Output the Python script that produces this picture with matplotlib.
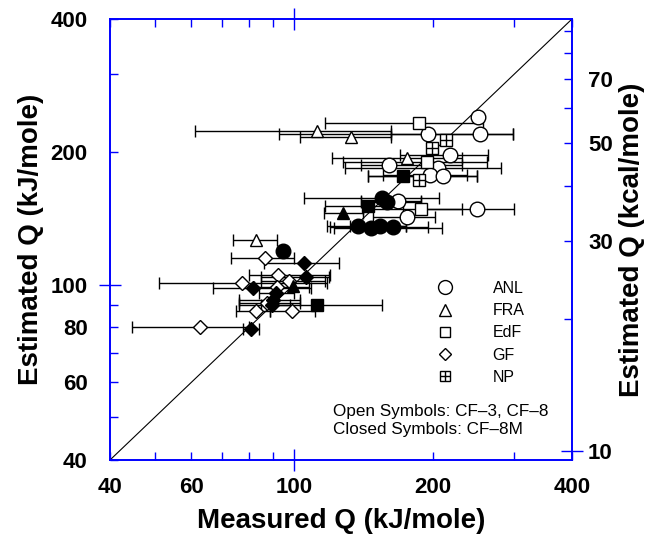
import numpy as np
import matplotlib
matplotlib.use("Agg")
import matplotlib.pyplot as plt
from matplotlib.lines import Line2D
from matplotlib.ticker import FuncFormatter

plt.rcParams["font.family"] = ["Liberation Sans", "DejaVu Sans"]

KJ_PER_KCAL = 4.184
AXIS_RANGE = [40, 400]
X_LABELED = [40, 60, 100, 200, 400]
Y_LABELED = [40, 60, 80, 100, 200, 400]
KCAL_LABELED = [10, 30, 50, 70]

# open symbols: CF-3, CF-8  (measured, estimated, measured low/high)
anl_x = [250, 195, 253, 218, 161, 205, 197, 210, 168, 249, 176]
anl_y = [240, 220, 219, 197, 187, 184, 177, 176, 155, 148, 142]
anl_lo = [250, 93, 162, 170, 140, 129, 156, 145, 140, 188, 148]
anl_hi = [250, 298, 298, 263, 231, 281, 237, 249, 188, 300, 202]

fra_x = [112, 133, 176, 83]
fra_y = [223, 216, 194, 126]
fra_lo = [61, 103, 121, 74]
fra_hi = [162, 162, 231, 92]

edf_x = [187, 194, 188]
edf_y = [232, 190, 148]
edf_lo = [117, 128, 141]
edf_hi = [257, 262, 231]

gf_x = [86.6, 92.4, 77.3, 97.6, 91.9, 87.5, 82.8, 99, 62.6]
gf_y = [115, 105, 101, 102, 98.7, 90.8, 87.1, 87.1, 80.1]
gf_lo = [73, 80, 51, 85, 82, 76, 75, 89, 44.6]
gf_hi = [100, 120, 118, 117, 108, 103, 89, 111, 80]

np_x = [213, 199, 187]
np_y = [213, 204, 173]

# closed symbols: CF-8M
anl_m_x = [155, 159, 138, 147, 154, 164, 94.7]
anl_m_y = [157, 154, 136, 134, 136, 135, 119]
anl_m_lo = [105, 140, 118, 122, 132, 120, 94.7]
anl_m_hi = [206, 188, 175, 209, 175, 195, 94.7]

fra_m_x = [128, 99.6]
fra_m_y = [145, 99.2]
fra_m_lo = [116, 99.6]
fra_m_hi = [141, 99.6]

edf_m_x = [145, 172, 112]
edf_m_y = [151, 176, 89.8]
edf_m_lo = [117, 145, 76]
edf_m_hi = [172, 249, 155]

gf_m_x = [105, 106, 81.6, 91.5, 90.1, 89.7, 80.8]
gf_m_y = [112, 104, 98.2, 95.6, 92.2, 89.8, 79.3]
gf_m_lo = [86, 85, 67, 84, 76, 85, 77.6]
gf_m_hi = [125, 119, 109, 100, 103, 98, 84]

MARKERS = {"ANL": ("o", 10.5), "FRA": ("^", 8), "EdF": ("s", 8), "GF": ("D", 6.8)}


def draw(ax, x, y, lo, hi, lab, filled):
    x = np.asarray(x, float)
    err = [x - np.asarray(lo, float), np.asarray(hi, float) - x]
    m, ms = MARKERS[lab]
    ax.errorbar(x, y, xerr=err, fmt=m, ms=ms, mfc="black" if filled else "white",
                mec="black", mew=1.0, ecolor="black", elinewidth=1.0,
                capsize=4, capthick=1.0, zorder=3)


fig = plt.figure(figsize=(6.56, 5.38), dpi=100)
ax = fig.add_axes([110 / 656, 1 - 460 / 538, 462 / 656, 441 / 538])
ax.set_xscale("log")
ax.set_yscale("log")
ax.set_xlim(AXIS_RANGE)
ax.set_ylim(AXIS_RANGE)

ax.plot(AXIS_RANGE, AXIS_RANGE, color="black", lw=0.8, zorder=1)

draw(ax, anl_x, anl_y, anl_lo, anl_hi, "ANL", False)
draw(ax, fra_x, fra_y, fra_lo, fra_hi, "FRA", False)
draw(ax, edf_x, edf_y, edf_lo, edf_hi, "EdF", False)
draw(ax, gf_x, gf_y, gf_lo, gf_hi, "GF", False)
draw(ax, anl_m_x, anl_m_y, anl_m_lo, anl_m_hi, "ANL", True)
draw(ax, fra_m_x, fra_m_y, fra_m_lo, fra_m_hi, "FRA", True)
draw(ax, edf_m_x, edf_m_y, edf_m_lo, edf_m_hi, "EdF", True)
draw(ax, gf_m_x, gf_m_y, gf_m_lo, gf_m_hi, "GF", True)
ax.plot(np_x, np_y, "s", ms=8, mfc="white", mec="black", mew=1.0, zorder=4)
ax.plot(np_x, np_y, "+", ms=8, mec="black", mew=1.0, zorder=4.1)

# legend
hkw = dict(ls="none", mfc="white", mec="black", mew=1.0)
handles = [Line2D([], [], marker="o", ms=10, **hkw),
           Line2D([], [], marker="^", ms=8, **hkw),
           Line2D([], [], marker="s", ms=7.5, **hkw),
           Line2D([], [], marker="D", ms=6.5, **hkw),
           (Line2D([], [], marker="s", ms=7.5, **hkw),
            Line2D([], [], marker="+", ms=7.5, ls="none", mec="black", mew=1.0))]
ax.legend(handles, ["ANL", "FRA", "EdF", "GF", "NP"], loc="upper left",
          bbox_to_anchor=(0.69, 0.406), frameon=False, fontsize=11.5,
          handlelength=2.0, handletextpad=2.0, labelspacing=0.45,
          borderpad=0, borderaxespad=0)

ax.text(0.483, 0.089, "Open Symbols: CF\u20133, CF\u20138\nClosed Symbols: CF\u20138M",
        transform=ax.transAxes, fontsize=12.3, va="center", ha="left",
        linespacing=1.25)

# ticks
def fmt(labeled):
    return FuncFormatter(lambda v, _: f"{v:g}" if any(abs(v - t) < 1e-6 * t for t in labeled) else "")


for axis, labeled in ((ax.xaxis, X_LABELED), (ax.yaxis, Y_LABELED)):
    axis.set_major_formatter(fmt(labeled))
    axis.set_minor_formatter(fmt(labeled))

ax.tick_params(which="both", colors="blue", labelcolor="black", labelsize=16,
               top=True, right=False, width=1.0)
ax.tick_params(which="major", direction="inout", length=16)
ax.tick_params(which="minor", direction="in", length=5.5)
ax.xaxis.set_tick_params(which="major", pad=4)
ax.xaxis.set_tick_params(which="minor", pad=12)
ax.yaxis.set_tick_params(which="major", pad=8)
ax.yaxis.set_tick_params(which="minor", pad=16)
for lab in ax.get_xticklabels(which="both") + ax.get_yticklabels(which="both"):
    lab.set_fontweight("bold")

ax2 = ax.twinx()
ax2.set_yscale("log")
ax2.set_ylim(AXIS_RANGE[0] / KJ_PER_KCAL, AXIS_RANGE[1] / KJ_PER_KCAL)
ax2.yaxis.set_major_formatter(fmt(KCAL_LABELED))
ax2.yaxis.set_minor_formatter(fmt(KCAL_LABELED))
ax2.tick_params(which="both", colors="blue", labelcolor="black", labelsize=16, width=1.0)
ax2.tick_params(which="major", direction="inout", length=16, pad=3.5)
ax2.tick_params(which="minor", direction="in", length=5.5, pad=11.5)
for lab in ax2.get_yticklabels(which="both"):
    lab.set_fontweight("bold")

for a in (ax, ax2):
    for sp in a.spines.values():
        sp.set_color("blue")
        sp.set_linewidth(1.2)

ax.set_xlabel("Measured Q (kJ/mole)", fontsize=20, fontweight="bold")
ax.set_ylabel("Estimated Q (kJ/mole)", fontsize=20, fontweight="bold")
ax2.set_ylabel("Estimated Q (kcal/mole)", fontsize=20, fontweight="bold")
ax.xaxis.set_label_coords(0.5, -0.108)
ax.yaxis.set_label_coords(-0.142, 0.5)
ax2.yaxis.set_label_coords(1.102, 0.5)

fig.savefig("out.png", dpi=100)
